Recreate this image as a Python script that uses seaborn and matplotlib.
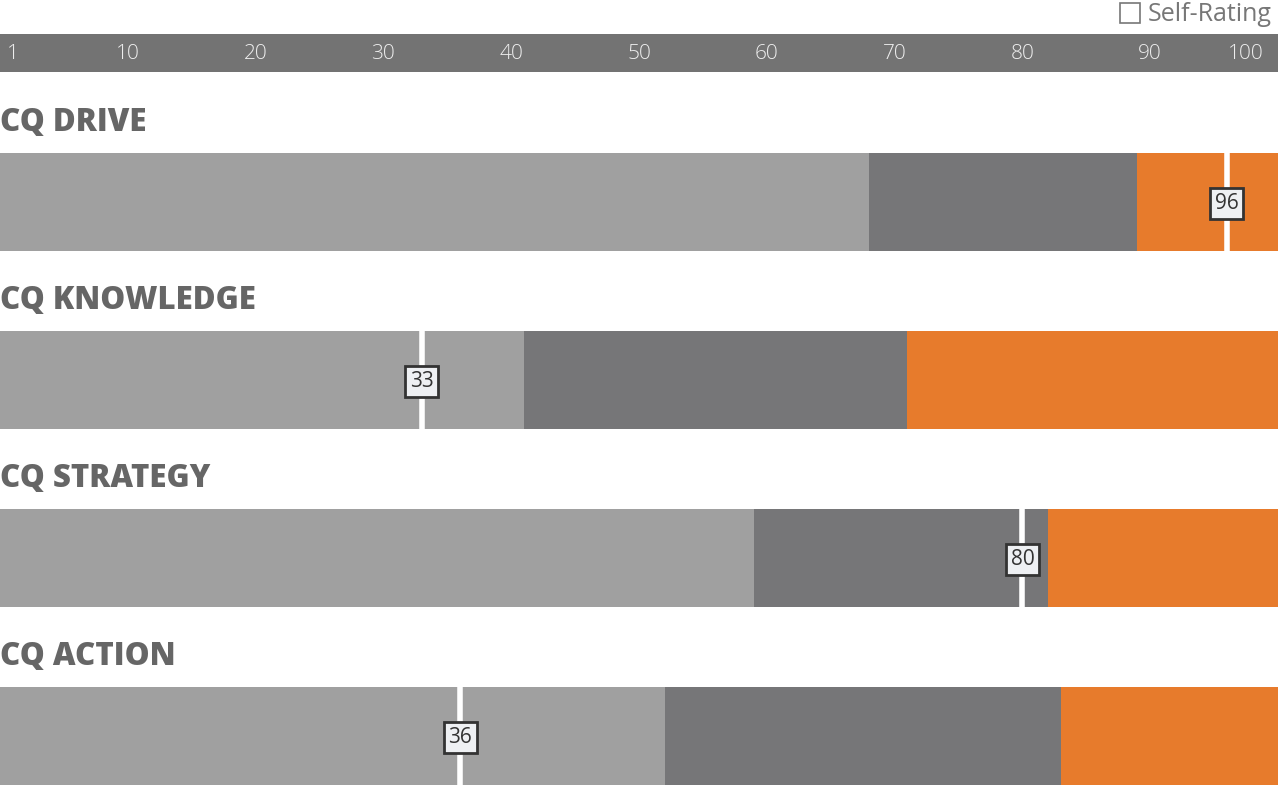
import matplotlib
matplotlib.use("Agg")
import matplotlib.pyplot as plt
from matplotlib.lines import Line2D
import seaborn as sns
import pandas as pd

categories = ["CQ DRIVE", "CQ KNOWLEDGE", "CQ STRATEGY", "CQ ACTION"]
low_band_end = [68, 41, 59, 52]
mid_band_end = [89, 71, 82, 83]
high_band_end = [100, 100, 100, 100]
self_rating = [96, 33, 80, 36]
tick_values = [1, 10, 20, 30, 40, 50, 60, 70, 80, 90, 100]
tick_labels = ["1", "10", "20", "30", "40", "50", "60", "70", "80", "90", "100"]

LIGHT = "#a0a0a0"
DARK = "#767678"
ORANGE = "#e77b2c"
HEADER = "#737373"
TITLE = "#666666"

sns.set_theme(style="white")
plt.rcParams["font.family"] = ["Open Sans", "DejaVu Sans"]

df = pd.DataFrame({"cat": categories, "low": low_band_end, "mid": mid_band_end,
                   "high": high_band_end, "score": self_rating})

fig = plt.figure(figsize=(12.78, 7.87), dpi=100)
ax = fig.add_axes([0, 0, 1, 1])

bw = 98 / 178
for col, c in [("high", ORANGE), ("mid", DARK), ("low", LIGHT)]:
    sns.barplot(data=df, x=col, y="cat", order=categories, color=c, saturation=1,
                width=bw, linewidth=0, ax=ax, orient="h")

# px mapping: bar centers at 202 + 178*i
def py(p):
    return (p - 202) / 178

ax.set_xlim(0, 100)
ax.set_ylim(py(787), py(0))
ax.axis("off")

# header band
ax.axhspan(py(72), py(34), xmin=0, xmax=1, color=HEADER, lw=0, zorder=0)
for v, lab in zip(tick_values, tick_labels):
    xv = v if v < 100 else 97.5
    ax.text(xv, py(54), lab, ha="center", va="center", color="#eeeeee",
            fontsize=15, fontweight=300)

# titles
for i, cat in enumerate(categories):
    ax.text(0, i + py(123), cat, ha="left", va="center", color=TITLE,
            fontsize=22.5, fontweight=800)

# self-rating markers
for i, s in enumerate(self_rating):
    ax.vlines(s, i - bw / 2, i + bw / 2, color="white", lw=4, zorder=5)
    ax.text(s, i + 0.008, str(s), ha="center", va="center", fontsize=15, color="#333333",
            zorder=6,
            bbox=dict(boxstyle="square,pad=0.22", facecolor="#eef0f3",
                      edgecolor="#333333", linewidth=2))

# legend
handle = Line2D([], [], marker="s", linestyle="none", markersize=14,
                markerfacecolor="white", markeredgecolor="#777777",
                markeredgewidth=1.2)
leg = ax.legend([handle], ["Self-Rating"], loc="upper right",
                bbox_to_anchor=(1.007, 1.016), frameon=False, fontsize=18,
                handletextpad=0.1, borderaxespad=0.2, handlelength=1.2)
for t in leg.get_texts():
    t.set_color("#777777")

fig.savefig("out.png", dpi=100)
